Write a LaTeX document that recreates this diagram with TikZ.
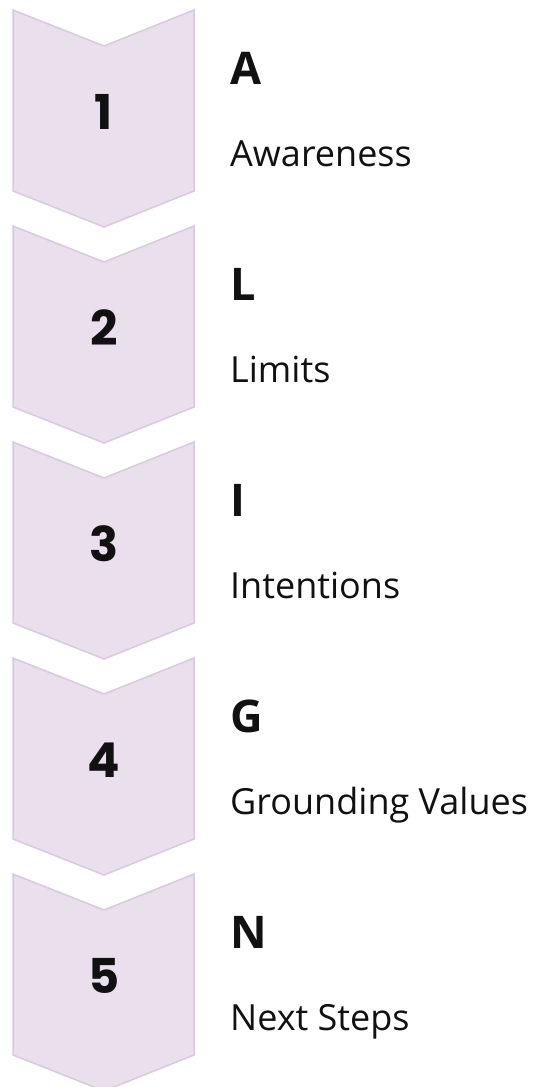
\documentclass[tikz,border=0pt]{standalone}
\usepackage{fontspec}
\setmainfont{Open Sans}
\newfontfamily\numfont{Poppins}[UprightFont=* Bold]
\definecolor{chevfill}{RGB}{233,223,237}
\definecolor{chevline}{RGB}{214,202,219}
\definecolor{txt}{RGB}{17,17,17}
\begin{document}
\begin{tikzpicture}[x=1pt,y=-1pt,
  chev/.style={fill=chevfill,draw=chevline,line width=1.5pt,line join=miter},
  numlbl/.style={font=\numfont\fontsize{48}{48}\selectfont,text=txt,inner sep=0pt},
  letlbl/.style={font=\bfseries\fontsize{45}{45}\selectfont,text=txt,anchor=base west,inner sep=0pt},
  sublbl/.style={font=\fontsize{36}{36}\selectfont,text=txt,anchor=base west,inner sep=0pt}]
\useasboundingbox (0,0) rectangle (533,1087);
\foreach \i/\n/\L/\S in {0/1/A/Awareness,1/2/L/Limits,2/3/I/Intentions,3/4/G/Grounding Values,4/5/N/Next Steps}{
  \pgfmathsetmacro{\t}{10+216*\i}
  \draw[chev] (13,\t) -- (104,\t+36) -- (194,\t) -- (194,\t+181) -- (104,\t+217) -- (13,\t+181) -- cycle;
  \node[numlbl] (num\n) at (104,\t+102) {\n};
  \node[letlbl] (let\n) at (230,\t+74) {\L};
  \node[sublbl] (sub\n) at (230,\t+156) {\S};
}
\end{tikzpicture}
\end{document}
